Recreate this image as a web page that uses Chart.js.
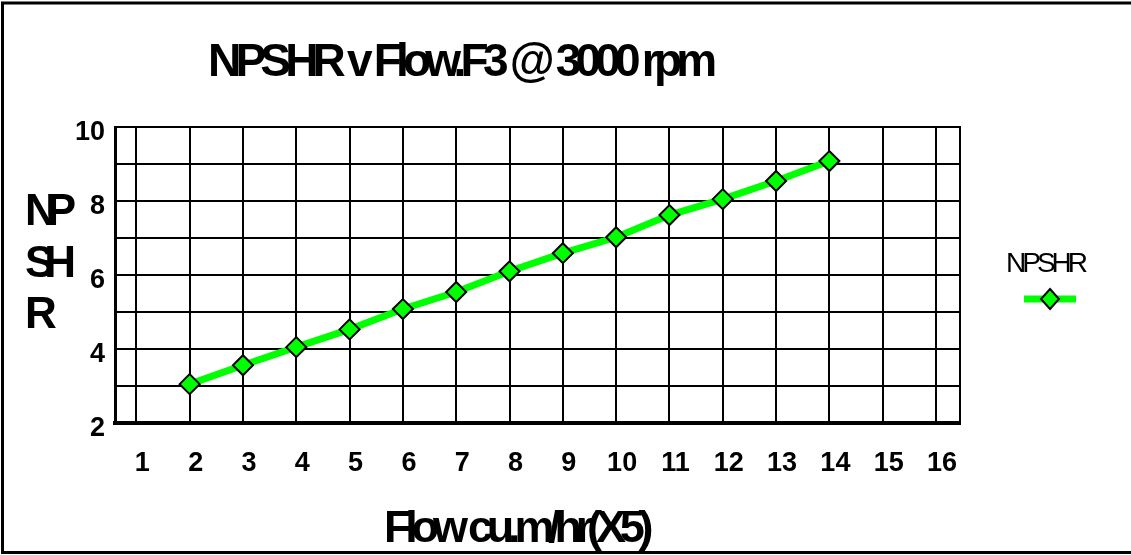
<!DOCTYPE html>
<html>
<head>
<meta charset="utf-8">
<title>NPSHR v Flow</title>
<script src="https://cdn.jsdelivr.net/npm/chart.js@4.4.0/dist/chart.umd.min.js"></script>
<style>
  html, body { margin: 0; padding: 0; background: #fff; }
  canvas { display: block; }
</style>
</head>
<body>
<canvas id="npshrChart" width="1131" height="555"></canvas>
<script>
// Chart data
const flowLabels = [1, 2, 3, 4, 5, 6, 7, 8, 9, 10, 11, 12, 13, 14, 15, 16];
const npshrValues = [null, 3.05, 3.56, 4.05, 4.53, 5.08, 5.54, 6.10, 6.59, 7.02, 7.62, 8.05, 8.54, 9.08, null, null];
const yTickLabels = [2, 4, 6, 8, 10];

const chartTitle = 'NPSHR v Flow.F3 @ 3000 rpm';
const xTitle = 'Flow cu.m/hr(X5)';
const yTitleLines = ['NP', 'SH', 'R'];
const seriesName = 'NPSHR';

const FONT = "'Liberation Sans', Arial, sans-serif";
const GREEN = '#00ff00';

/**
 * Draws frame, plot outline, titles and legend (old spreadsheet look)
 */
const decorPlugin = {
  id: 'decor',
  beforeDatasetsDraw(chart) {
    const { ctx, chartArea } = chart;
    ctx.save();
    ctx.strokeStyle = '#000';
    ctx.lineWidth = 2;
    ctx.beginPath();
    ctx.moveTo(chartArea.left, chartArea.top);
    ctx.lineTo(chartArea.right, chartArea.top);
    ctx.lineTo(chartArea.right, chartArea.bottom);
    ctx.stroke();
    ctx.restore();
  },
  afterDraw(chart) {
    const { ctx } = chart;
    ctx.save();

    // outer frame
    ctx.strokeStyle = '#000';
    ctx.lineWidth = 3;
    ctx.strokeRect(2.5, 3, 1140, 549.5);

    ctx.fillStyle = '#000';
    ctx.textBaseline = 'alphabetic';
    ctx.textAlign = 'left';

    // main title
    ctx.font = 'bold 46px ' + FONT;
    ctx.letterSpacing = '-5.8px';
    ctx.fillText(chartTitle, 208, 76);

    // y axis title, stacked
    ctx.font = 'bold 44px ' + FONT;
    ctx.letterSpacing = '-10px';
    yTitleLines.forEach((line, i) => {
      ctx.fillText(line, 25, 225 + i * 51.5);
    });

    // x axis title
    ctx.font = 'bold 45px ' + FONT;
    ctx.letterSpacing = '-6.2px';
    ctx.fillText(xTitle, 384, 542);

    // legend
    ctx.font = '28px ' + FONT;
    ctx.letterSpacing = '-4px';
    ctx.fillText(seriesName, 1006, 272);
    ctx.letterSpacing = '0px';

    ctx.strokeStyle = GREEN;
    ctx.lineWidth = 7;
    ctx.beginPath();
    ctx.moveTo(1024, 299);
    ctx.lineTo(1076, 299);
    ctx.stroke();

    ctx.beginPath();
    ctx.moveTo(1050, 289);
    ctx.lineTo(1059, 299);
    ctx.lineTo(1050, 309);
    ctx.lineTo(1041, 299);
    ctx.closePath();
    ctx.fillStyle = GREEN;
    ctx.fill();
    ctx.strokeStyle = '#000';
    ctx.lineWidth = 2;
    ctx.stroke();

    ctx.restore();
  }
};

const ctx = document.getElementById('npshrChart').getContext('2d');

new Chart(ctx, {
  type: 'line',
  data: {
    datasets: [
      {
        label: seriesName,
        data: flowLabels.map((x, i) => ({ x: x, y: npshrValues[i] })),
        borderColor: GREEN,
        backgroundColor: GREEN,
        borderWidth: 7,
        tension: 0,
        fill: false,
        pointStyle: 'rectRot',
        pointRadius: 10,
        pointHoverRadius: 10,
        pointBackgroundColor: GREEN,
        pointBorderColor: '#000',
        pointBorderWidth: 2
      }
    ]
  },
  options: {
    responsive: false,
    animation: false,
    events: [],
    layout: {
      padding: { top: 127, right: 171, bottom: 0, left: 0 }
    },
    plugins: {
      legend: { display: false },
      title: { display: false },
      tooltip: { enabled: false }
    },
    scales: {
      x: {
        type: 'linear',
        min: 0.6,
        max: 16.45,
        afterBuildTicks: (scale) => {
          scale.ticks = flowLabels.map(v => ({ value: v }));
        },
        afterFit: (scale) => { scale.height = 132; },
        grid: { color: '#000', lineWidth: 2, drawTicks: false },
        border: { color: '#000', width: 4 },
        ticks: {
          color: '#000',
          padding: 24,
          labelOffset: 6,
          maxRotation: 0,
          autoSkip: false,
          font: { family: FONT, size: 27, weight: 'bold' }
        }
      },
      y: {
        min: 2,
        max: 10,
        afterFit: (scale) => { scale.width = 115; },
        grid: { color: '#000', lineWidth: 2, drawTicks: false },
        border: { color: '#000', width: 3 },
        ticks: {
          stepSize: 1,
          color: '#000',
          padding: 10,
          labelOffset: 6,
          font: { family: FONT, size: 27, weight: 'bold' },
          callback: function(value) {
            return yTickLabels.includes(value) ? String(value) : '';
          }
        }
      }
    }
  },
  plugins: [decorPlugin]
});
</script>
</body>
</html>
